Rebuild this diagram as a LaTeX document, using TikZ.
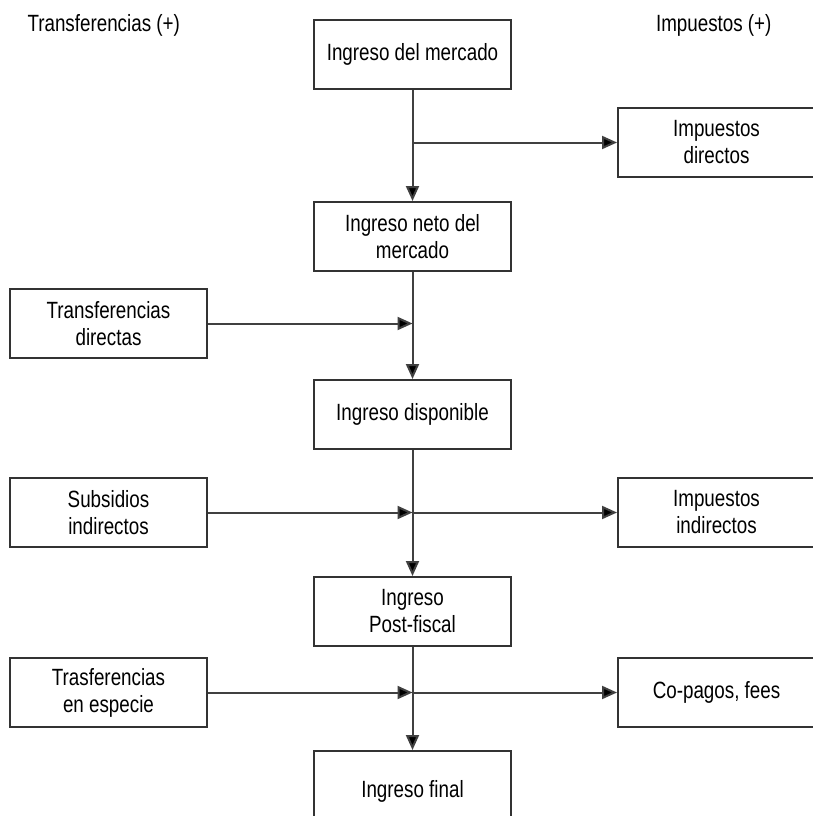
\documentclass[tikz,border=0pt]{standalone}
\usepackage{fontspec}
\setmainfont[FakeStretch=0.8]{Liberation Sans}
\usetikzlibrary{arrows.meta}
\begin{document}
\begin{tikzpicture}[x=1pt,y=-1pt,
  every node/.style={font=\fontsize{23.5}{27}\selectfont},
  box/.style={draw=black!80, line width=2pt, fill=white, rectangle, minimum width=197pt, minimum height=69pt, inner sep=0pt, align=center, text=black},
  conn/.style={draw=black!75, line width=2pt},
  arr/.style={conn, -{Triangle[length=15pt,width=13pt,fill=black]}}
]
\useasboundingbox (0,0) rectangle (812,816);
\fill[white] (0,0) rectangle (812,816);

\node[anchor=base west, text=black] (hl) at (24,32) {Transferencias (+)};
\node[anchor=base east, text=black] (hr) at (775,32) {Impuestos (+)};

% centre column
\node[box] (m1) at (412.5,54.5) {Ingreso del mercado};
\node[box] (m2) at (412.5,236.5) {Ingreso neto del\\mercado};
\node[box] (m3) at (412.5,414.5) {Ingreso disponible};
\node[box] (m4) at (412.5,611.5) {Ingreso\\Post-fiscal};
\node[box, minimum height=80pt] (m5) at (412.5,791) {Ingreso final};

% left column
\node[box] (l1) at (108.5,323.5) {Transferencias\\directas};
\node[box] (l2) at (108.5,512.5) {Subsidios\\indirectos};
\node[box] (l3) at (108.5,692.5) {Trasferencias\\en especie};

% right column
\node[box] (r1) at (716.5,142.5) {Impuestos\\directos};
\node[box] (r2) at (716.5,512.5) {Impuestos\\indirectos};
\node[box] (r3) at (716.5,692.5) {Co-pagos, fees};

% junctions on the main line
\coordinate (j1) at (412.5,142.5);
\coordinate (j2) at (412.5,323.5);
\coordinate (j3) at (412.5,512.5);
\coordinate (j4) at (412.5,692.5);

\draw[arr] (m1) -- (m2);
\draw[arr] (m2) -- (m3);
\draw[arr] (m3) -- (m4);
\draw[arr] (m4) -- (m5);

\draw[arr] (j1) -- (r1);
\draw[arr] (j3) -- (r2);
\draw[arr] (j4) -- (r3);

\draw[arr] (l1) -- (j2);
\draw[arr] (l2) -- (j3);
\draw[arr] (l3) -- (j4);
\end{tikzpicture}
\end{document}
